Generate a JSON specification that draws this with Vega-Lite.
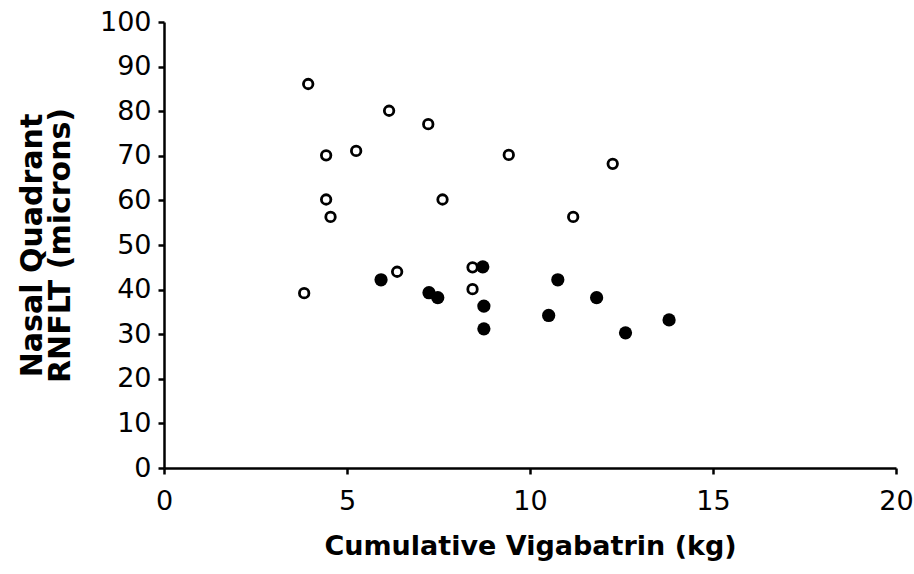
{
  "$schema": "https://vega.github.io/schema/vega-lite/v6.json",
  "width": 732,
  "height": 446,
  "autosize": "none",
  "padding": {"left": 164, "top": 22, "right": 18, "bottom": 106},
  "background": "white",
  "config": {"view": {"stroke": null}, "font": "DejaVu Sans"},
  "datasets": {
    "open": [
      {"kg": 3.83, "rnflt": 39.2},
      {"kg": 3.94, "rnflt": 86.1},
      {"kg": 4.43, "rnflt": 70.1},
      {"kg": 4.43, "rnflt": 60.2},
      {"kg": 4.55, "rnflt": 56.3},
      {"kg": 5.25, "rnflt": 71.1},
      {"kg": 6.15, "rnflt": 80.1},
      {"kg": 6.37, "rnflt": 44.0},
      {"kg": 7.22, "rnflt": 77.1},
      {"kg": 7.61, "rnflt": 60.2},
      {"kg": 8.43, "rnflt": 45.0},
      {"kg": 8.43, "rnflt": 40.1},
      {"kg": 9.42, "rnflt": 70.2},
      {"kg": 11.18, "rnflt": 56.3},
      {"kg": 12.26, "rnflt": 68.2}
    ],
    "filled": [
      {"kg": 5.93, "rnflt": 42.2},
      {"kg": 7.24, "rnflt": 39.3},
      {"kg": 7.48, "rnflt": 38.2},
      {"kg": 8.71, "rnflt": 45.1},
      {"kg": 8.74, "rnflt": 36.3},
      {"kg": 8.74, "rnflt": 31.2},
      {"kg": 10.51, "rnflt": 34.2},
      {"kg": 10.76, "rnflt": 42.2},
      {"kg": 11.82, "rnflt": 38.2},
      {"kg": 12.61, "rnflt": 30.3},
      {"kg": 13.8, "rnflt": 33.2}
    ]
  },
  "layer": [
    {
      "data": {"name": "open"},
      "mark": {"type": "point", "shape": "circle", "filled": false, "stroke": "black", "strokeWidth": 2.8, "size": 90, "opacity": 1},
      "encoding": {
        "x": {
          "field": "kg", "type": "quantitative",
          "scale": {"domain": [0, 20], "nice": false, "zero": true},
          "axis": {
            "values": [0, 5, 10, 15, 20], "grid": false, "labelFlush": false,
            "title": "Cumulative Vigabatrin (kg)",
            "titleFont": "DejaVu Sans", "titleFontSize": 27, "titleFontWeight": "bold", "titleColor": "black", "titlePadding": 19,
            "labelFont": "DejaVu Sans", "labelFontSize": 27, "labelColor": "black", "labelPadding": 14,
            "domainColor": "black", "domainWidth": 2.5, "tickColor": "black", "tickWidth": 2.5, "tickSize": 6
          }
        },
        "y": {
          "field": "rnflt", "type": "quantitative",
          "scale": {"domain": [0, 100], "nice": false},
          "axis": {
            "values": [0, 10, 20, 30, 40, 50, 60, 70, 80, 90, 100], "grid": false,
            "title": ["Nasal Quadrant", "RNFLT (microns)"],
            "titleFont": "DejaVu Sans", "titleFontSize": 30, "titleFontWeight": "bold", "titleColor": "black", "titlePadding": 24, "titleLineHeight": 28,
            "labelFont": "DejaVu Sans", "labelFontSize": 27, "labelColor": "black", "labelPadding": 7,
            "domainColor": "black", "domainWidth": 2.5, "tickColor": "black", "tickWidth": 2.5, "tickSize": 6
          }
        }
      }
    },
    {
      "data": {"name": "filled"},
      "mark": {"type": "point", "shape": "circle", "filled": true, "fill": "black", "size": 175, "opacity": 1},
      "encoding": {
        "x": {"field": "kg", "type": "quantitative"},
        "y": {"field": "rnflt", "type": "quantitative"}
      }
    }
  ]
}
